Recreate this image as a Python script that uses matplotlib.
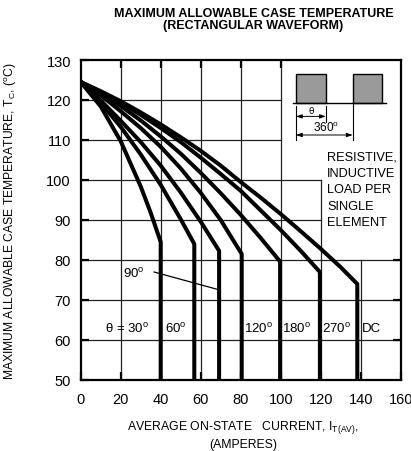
import matplotlib
matplotlib.use("Agg")
import matplotlib.pyplot as plt
from matplotlib.patches import Rectangle

plt.rcParams['font.family'] = ['Liberation Sans', 'DejaVu Sans']

# ---- data ----
x_30 = [0, 10, 20, 30, 35, 40, 40]
y_30 = [124.5, 118.4, 109.7, 98.4, 91.8, 84.5, 50]
x_60 = [0, 10, 20, 30, 40, 50, 56.8, 56.8]
y_60 = [124.5, 119.3, 113.3, 106.4, 98.8, 90.2, 84.0, 50]
x_90 = [0, 10, 20, 30, 40, 50, 60, 69.2, 69.2]
y_90 = [124.5, 119.9, 114.8, 109.5, 103.6, 96.9, 89.6, 82.3, 50]
x_120 = [0, 10, 20, 30, 40, 50, 60, 70, 80.5, 80.5]
y_120 = [124.5, 121.2, 117.2, 113.0, 108.3, 102.9, 96.8, 90.0, 81.5, 50]
x_180 = [0, 10, 20, 30, 40, 50, 60, 70, 80, 90, 99.7, 99.7]
y_180 = [124.5, 121.7, 118.5, 114.9, 110.9, 106.6, 101.8, 96.7, 91.3, 85.5, 79.6, 50]
x_270 = [0, 10, 20, 30, 40, 50, 60, 70, 80, 90, 100, 110, 119.6, 119.6]
y_270 = [124.5, 122.05, 119.3, 116.3, 113.0, 109.5, 105.6, 101.5, 97.3, 92.4, 87.5, 82.3, 77.0, 50]
x_dc = [0, 10, 20, 30, 40, 50, 60, 70, 80, 90, 100, 110, 120, 130, 138.3, 138.3]
y_dc = [124.5, 122.2, 119.7, 116.9, 113.9, 110.7, 107.3, 103.6, 99.5, 95.6, 91.5, 87.2, 82.8, 78.2, 74.0, 50]

curves = [(x_30, y_30), (x_60, y_60), (x_90, y_90), (x_120, y_120),
          (x_180, y_180), (x_270, y_270), (x_dc, y_dc)]

x_ticks = [0, 20, 40, 60, 80, 100, 120, 140, 160]
y_ticks = [50, 60, 70, 80, 90, 100, 110, 120, 130]

note_lines = ['RESISTIVE,', 'INDUCTIVE', 'LOAD PER', 'SINGLE', 'ELEMENT']

fig = plt.figure(figsize=(4.11, 4.52), dpi=100)
ax = fig.add_axes([80.7 / 411, 71 / 452, 320 / 411, 320 / 452])
ax.set_xlim(0, 160)
ax.set_ylim(50, 130)

# grid (partial, leaving room for the inset)
gkw = dict(color='#222222', lw=0.9, zorder=1)
for gx, top in [(20, 130), (40, 130), (60, 130), (80, 130), (100, 130), (120, 100), (140, 80)]:
    ax.plot([gx, gx], [50, top], **gkw)
for gy, right in [(60, 160), (70, 160), (80, 160), (90, 120), (100, 120), (110, 100), (120, 100)]:
    ax.plot([0, right], [gy, gy], **gkw)

# top / right ticks drawn manually
tkw = dict(color='black', lw=1.6, zorder=2, solid_capstyle='butt')
for gx in [20, 40, 60, 80, 100]:
    ax.plot([gx, gx], [130, 128], **tkw)
for gy in [60, 70, 80]:
    ax.plot([160, 156], [gy, gy], **tkw)

for xs, ys in curves:
    ax.plot(xs, ys, color='black', lw=2.9, solid_joinstyle='round', zorder=3)

for s in ax.spines.values():
    s.set_linewidth(1.6)

ax.set_xticks(x_ticks)
ax.set_yticks(y_ticks)
ax.tick_params(direction='in', length=5.8, width=1.6, labelsize=10.5)
ax.tick_params(axis='x', pad=9)
ax.tick_params(axis='y', pad=7)

ax.set_xlabel('AVERAGE ON-STATE   CURRENT, I$_{\\mathregular{T(AV)}}$,\n(AMPERES)',
              fontsize=8.8, linespacing=1.35)
ax.xaxis.set_label_coords(0.507, -0.118)
ax.xaxis.label.set_va('top')
ax.set_ylabel('MAXIMUM ALLOWABLE CASE TEMPERATURE, T$_{\\mathregular{C}}$, ($^{\\mathregular{o}}$C)',
              fontsize=8.7)
ax.yaxis.set_label_coords(-0.194, 0.5)

fig.text(0.617, 0.983, 'MAXIMUM ALLOWABLE CASE TEMPERATURE\n(RECTANGULAR WAVEFORM)',
         ha='center', va='top', fontsize=9, fontweight='bold', linespacing=1.08)

# curve labels
lkw = dict(fontsize=9.5, va='center', zorder=4)
ax.text(12, 63.0, '\u03b8 = 30$^{\\mathregular{o}}$', **lkw)
ax.text(42, 63.0, '60$^{\\mathregular{o}}$', **lkw)
ax.text(81.5, 63.0, '120$^{\\mathregular{o}}$', **lkw)
ax.text(100.8, 63.0, '180$^{\\mathregular{o}}$', **lkw)
ax.text(120.4, 63.0, '270$^{\\mathregular{o}}$', **lkw)
ax.text(140.6, 63.0, 'DC', **lkw)
ax.text(21, 76.8, '90$^{\\mathregular{o}}$', **lkw)
ax.plot([36.7, 68.8], [77.0, 72.6], color='black', lw=0.9, zorder=4)

# note text, one line at a time
for i, line in enumerate(note_lines):
    ax.text(123.2, 105.75 - 4.05 * i, line, fontsize=9.2, va='center', ha='left', zorder=4)

# waveform inset
for x0, x1 in [(107.6, 122.6), (136.0, 150.8)]:
    ax.add_patch(Rectangle((x0, 119.25), x1 - x0, 7.25, facecolor='#9a9a9a',
                           edgecolor='black', lw=1.0, zorder=4))
ax.plot([106.0, 152.6], [119.25, 119.25], color='black', lw=1.0, zorder=5)
ax.plot([107.6, 107.6], [118.5, 110.0], color='black', lw=0.8, zorder=5)
ax.plot([122.6, 122.6], [118.5, 114.6], color='black', lw=0.8, zorder=5)
ax.plot([136.0, 136.0], [119.25, 110.0], color='black', lw=0.8, zorder=5)
akw = dict(arrowstyle='<|-|>,head_length=0.35,head_width=0.12', color='black', lw=0.7,
           shrinkA=0, shrinkB=0)
ax.annotate('', xy=(107.6, 115.9), xytext=(122.6, 115.9), arrowprops=akw, zorder=5)
ax.annotate('', xy=(107.6, 111.25), xytext=(136.0, 111.25), arrowprops=akw, zorder=5)
ax.text(115.1, 117.4, '\u03b8', fontsize=6.5, ha='center', va='center', zorder=5,
        family=['DejaVu Sans'])
ax.text(122.8, 113.3, '360$^{\\mathregular{o}}$', fontsize=8.5, ha='center', va='center', zorder=5)

fig.savefig('out.png', dpi=100)
